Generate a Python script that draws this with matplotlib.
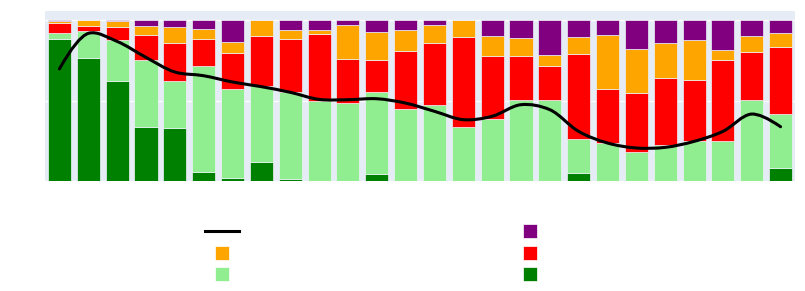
import numpy as np
import matplotlib
matplotlib.use("Agg")
import matplotlib.pyplot as plt
from matplotlib.path import Path
from matplotlib.patches import PathPatch
from matplotlib.lines import Line2D

categories = list(range(1, 27))
dark_green = [88.4, 76.6, 61.9, 33.3, 32.9, 5.4, 2.1, 11.6, 1.2, 0, 0, 4.6, 0,
              0, 0, 0, 0, 0, 5.0, 0, 0, 0, 0, 0, 0, 7.9]
light_green = [3.7, 16.6, 25.5, 42.1, 29.0, 65.8, 55.0, 47.6, 53.9, 49.7, 48.2, 50.7, 44.9,
               47.4, 33.7, 38.5, 50.3, 50.3, 21.3, 23.8, 18.2, 22.4, 25.1, 24.8, 50.1, 33.7]
red = [5.8, 3.3, 8.3, 15.5, 23.6, 17.2, 22.2, 31.1, 32.9, 41.4, 27.6, 19.6, 35.6,
       38.1, 55.5, 38.9, 27.5, 21.1, 52.4, 33.1, 36.3, 41.8, 37.4, 50.1, 29.8, 41.6]
orange = [1.3, 3.5, 3.5, 5.2, 9.9, 5.8, 7.0, 9.7, 5.8, 2.7, 20.9, 17.6, 13.1,
          11.6, 10.8, 12.9, 11.2, 7.1, 10.7, 33.6, 27.3, 21.7, 25.1, 6.3, 10.0, 8.5]
purple = [0.8, 0.0, 0.8, 3.9, 4.6, 5.8, 13.7, 0.0, 6.2, 6.2, 3.3, 7.5, 6.4,
          2.9, 0.0, 9.7, 11.0, 21.5, 10.6, 9.5, 18.2, 14.1, 12.4, 18.8, 10.1, 8.3]
line_values = [69.6, 91.7, 86.7, 76.8, 67.7, 65.4, 61.5, 58.6, 55.1, 50.7, 50.5, 51.1, 48.4,
               43.3, 38.1, 40.2, 47.4, 44.3, 30.8, 23.6, 20.5, 20.9, 24.6, 30.8, 41.6, 33.7]

series = [(dark_green, "#008000"), (light_green, "#90EE90"), (red, "#FF0000"),
          (orange, "#FFA500"), (purple, "#800080")]

W, H = 805, 291
fig = plt.figure(figsize=(W / 100, H / 100), dpi=100)
ax_l, ax_r, ax_t, ax_b = 45, 795, 11, 181
ax = fig.add_axes([ax_l / W, (H - ax_b) / H, (ax_r - ax_l) / W, (ax_b - ax_t) / H])
ax.set_facecolor("#E5ECF6")
ymax = 105.6
ax.set_ylim(0, ymax)
ax.set_xlim(-0.5, len(categories) - 0.5)
ax.set_yticks([0, 50, 100])
ax.set_xticks([])
ax.yaxis.grid(True, color="white", linewidth=1.0)
ax.set_axisbelow(True)
ax.tick_params(left=False, bottom=False, labelleft=False, labelbottom=False)
for s in ax.spines.values():
    s.set_visible(False)

x = np.arange(len(categories))
bottom = np.zeros(len(categories))
for vals, col in series:
    v = np.array(vals, dtype=float)
    ax.bar(x, v, bottom=bottom, width=0.8, color=col, edgecolor="#EEF2F8", linewidth=0.5, zorder=2)
    bottom += v

# plotly-style spline smoothing computed in pixel space
sx = (ax_r - ax_l) / len(categories)
sy = (ax_b - ax_t) / ymax
pts = np.column_stack([x * sx, -np.array(line_values) * sy])

def tangent(p0, p1, p2, s=1.0):
    d1 = p0 - p1
    d2 = p2 - p1
    d1a = (d1 @ d1) ** 0.25
    d2a = (d2 @ d2) ** 0.25
    num = (d2a * d2a * d1 - d1a * d1a * d2) * s
    den1 = 3 * d2a * (d1a + d2a)
    den2 = 3 * d1a * (d1a + d2a)
    a = p1 + (num / den1 if den1 else 0)
    b = p1 - (num / den2 if den2 else 0)
    return a, b

tans = [tangent(pts[i - 1], pts[i], pts[i + 1]) for i in range(1, len(pts) - 1)]
verts = [pts[0], tans[0][0], pts[1]]
codes = [Path.MOVETO, Path.CURVE3, Path.CURVE3]
for i in range(2, len(pts) - 1):
    verts += [tans[i - 2][1], tans[i - 1][0], pts[i]]
    codes += [Path.CURVE4] * 3
verts += [tans[-1][1], pts[-1]]
codes += [Path.CURVE3] * 2
verts = np.array(verts)
verts_data = np.column_stack([verts[:, 0] / sx, -verts[:, 1] / sy])
ax.add_patch(PathPatch(Path(verts_data, codes), facecolor="none", edgecolor="black",
                       linewidth=2.2, zorder=3, capstyle="round", joinstyle="round"))

# legend (no text labels)
fs = 10
left_handles = [Line2D([], [], color="black", linewidth=2.2),
                Line2D([], [], marker="s", linestyle="none", color="#FFA500", markersize=9.4,
                       markeredgecolor="white", markeredgewidth=0.5),
                Line2D([], [], marker="s", linestyle="none", color="#90EE90", markersize=9.4,
                       markeredgecolor="white", markeredgewidth=0.5)]
right_handles = [Line2D([], [], marker="s", linestyle="none", color=c, markersize=9.4,
                        markeredgecolor="white", markeredgewidth=0.5)
                 for c in ["#800080", "#FF0000", "#008000"]]
for handles, cx in [(left_handles, 222), (right_handles, 530)]:
    leg = fig.legend(handles, [""] * 3, loc="center", bbox_to_anchor=(cx / W, 1 - 253.5 / H),
                     frameon=False, fontsize=fs, handlelength=2.45, handletextpad=0,
                     labelspacing=0.55, borderpad=0, borderaxespad=0)

fig.savefig("out.png", dpi=100)
